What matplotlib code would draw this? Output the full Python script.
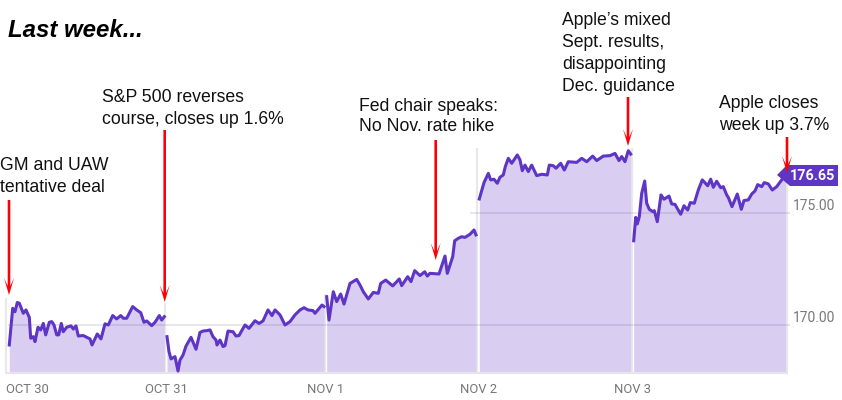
import matplotlib
matplotlib.use("Agg")
import matplotlib.pyplot as plt
from matplotlib.patches import Polygon

# Time-axis positions and closing prices for each of the five sessions
t_oct30 = [9.3,12.7,15,17.3,19.3,23.3,26,29.3,30.7,33.3,35,38,40.7,43.3,45.7,49.3,51.7,54,56.7,58.7,61.3,63.3,66.7,71,73.3,76,78.3,83.3,87.3,90,92,97.3,101,105,108.3,112.7,116.7,120.7,123.3,126.7,132.7,136.7,140.7,144,146.7,151.7,155,159.3,161.7,164.3]
p_oct30 = [169.11,170.74,170.59,171.0,170.97,170.52,170.67,170.34,169.41,169.48,169.26,169.90,169.78,170.07,169.56,170.12,170.15,170.0,169.56,169.56,170.07,169.70,169.90,169.96,169.82,169.96,169.51,169.53,169.44,169.38,169.11,169.60,169.38,170.05,170.0,170.42,170.27,170.42,170.30,170.30,170.82,170.67,170.55,170.12,170.18,169.97,170.12,170.42,170.22,170.37]
t_oct31 = [167,169,171,175,178,180,183,186,191,196,200,203,207,210,213,216,217,220,223,225,228,233,236,239,245,249,255,259,263,268,272,275,280,285,290,295,300,304,308,313,315,322,324]
p_oct31 = [169.48,168.81,168.49,168.59,167.95,168.44,168.66,169.06,169.45,168.92,169.67,169.73,169.75,169.78,169.48,169.33,169.11,169.33,169.04,169.08,169.73,169.70,169.51,169.53,170.0,169.85,170.19,170.07,170.18,170.67,170.42,170.67,170.45,170.0,170.15,170.45,170.67,170.77,170.67,170.64,170.52,170.89,170.82]
t_nov1 = [326.7,329,333.3,336.7,340.7,344,350,356.7,360,363.3,368.3,373.3,378.3,380.7,385.7,392.7,399.3,401.7,407.7,411,414.7,420,424.7,427.3,430,439,445,447.3,452.7,454.7,458.3,461.7,465,470,474,476]
p_nov1 = [171.26,170.22,171.48,171.04,171.38,170.93,171.85,172.03,171.78,171.48,171.16,171.45,171.41,171.85,172.0,171.74,172.05,171.75,172.15,171.93,172.42,172.20,172.37,172.18,172.30,172.27,173.07,172.30,173.04,173.75,173.86,173.93,173.90,174.04,174.23,174.01]
t_nov2 = [479.3,484,488.3,490.7,494,497.3,500,503.3,505.3,508.3,511.7,517.3,520,522.3,525,528.3,531.7,536.7,541.7,547.3,549.3,553.3,556,560.7,564.3,568.3,576.7,581.7,586.7,592.7,596.7,603.3,610,615,619,621.7,625,628.3,630.7]
p_nov2 = [175.61,176.34,176.75,176.46,176.49,176.31,176.58,176.68,177.05,177.42,177.20,177.57,177.35,176.87,177.12,176.83,177.12,176.65,176.71,176.68,177.12,177.09,176.98,177.20,176.90,177.27,177.24,177.42,177.27,177.52,177.32,177.52,177.54,177.64,177.32,177.50,177.27,177.76,177.61]
t_nov3 = [633.7,635.7,637.3,639.3,641.7,644.7,646.7,649.3,652.7,654.3,657.3,661,664,669,671.7,675,677.3,680.7,684,687.7,690.3,694.3,698.3,702.3,707.7,710.7,713.3,716.7,720.7,723.3,726.7,728.3,732,737.3,741.3,744,748.3,751.7,755,757.7,761.7,764.3,768.3,772.3,776.7,781.7,785.7]
p_nov3 = [173.75,174.79,174.50,174.82,175.86,176.41,175.42,175.15,175.05,175.09,174.60,175.79,175.60,175.74,175.39,175.37,175.19,174.93,175.31,175.12,175.45,175.42,176.01,176.46,176.20,176.49,176.13,176.40,176.11,176.16,175.79,175.68,175.27,175.83,175.15,175.54,175.57,175.83,175.97,176.25,176.16,176.34,176.28,176.01,176.16,176.46,176.63]

sessions = [(t_oct30, p_oct30), (t_oct31, p_oct31), (t_nov1, p_nov1), (t_nov2, p_nov2), (t_nov3, p_nov3)]
grid_levels = [170, 175]
grid_labels = ["170.00", "175.00"]
last_price = "176.65"
date_labels = ["OCT 30", "OCT 31", "NOV 1", "NOV 2", "NOV 3"]

LINE = "#5e35c4"
FILL = "#d9cdf2"
BASE = 167.9

fig = plt.figure(figsize=(8.42, 4), dpi=100)
ax = fig.add_axes([0, 0, 1, 1])
ax.set_xlim(0, 842)
ax.set_ylim(166.66, 184.47)
ax.axis("off")

# Session separators (pale rules reaching above the area)
for x, top in [(6, 171.2), (165, 171.0), (325, 171.4), (477, 177.9), (632, 177.9), (786.5, 176.6)]:
    ax.plot([x, x], [BASE, top], color="#e9e9ec", lw=1.6, zorder=1, solid_capstyle="butt")
for t, p in sessions:
    ax.fill_between(t, p, BASE, color=FILL, lw=0, zorder=2)
    ax.plot(t, p, color=LINE, lw=2.2, zorder=4, solid_joinstyle="round")

ax.plot([5, 788], [BASE - 0.03] * 2, color="#e6e6ea", lw=1.6, zorder=3, solid_capstyle="butt")
ax.hlines(grid_levels[0], 8, 790, color="#5b4a80", alpha=0.16, lw=1.2, zorder=3)
ax.hlines(grid_levels[1], 470, 790, color="#5b4a80", alpha=0.16, lw=1.2, zorder=3)

# Overlay in picture pixels for labels and call-outs
ov = fig.add_axes([0, 0, 1, 1])
ov.set_xlim(0, 842)
ov.set_ylim(400, 0)
ov.axis("off")
ov.patch.set_alpha(0)

for lab, x in zip(date_labels, [6, 145, 307, 460, 614]):
    ov.text(x, 389.5, lab, family="Roboto", fontsize=9.4, color="#777777", va="center", ha="left")
for lab, y in zip(grid_labels, [317, 205]):
    ov.text(793, y + 0.7, lab, family="Roboto", fontsize=10.0, color="#777777", va="center", ha="left")

ov.add_patch(Polygon([(777, 175), (787, 165), (838, 165), (838, 186), (790, 186)], closed=True, color=LINE, lw=0, zorder=5))
ov.text(789.5, 176, last_price, family="Roboto", weight="bold", fontsize=10.4, color="white", va="center", ha="left", zorder=6)

ov.text(8, 30.5, "Last week...", family="Liberation Sans", weight="bold", style="italic", fontsize=17.3, color="black", va="center")
notes = [
    (0, ["GM and UAW", "tentative deal"], [170, 192]),
    (102, ["S&P 500 reverses", "course, closes up 1.6%"], [102, 124]),
    (359, ["Fed chair speaks:", "No Nov. rate hike"], [111, 131]),
    (562, ["Apple\u2019s mixed", "Sept. results,", "disappointing", "Dec. guidance"], [25, 47, 69, 91]),
    (719, ["Apple closes", "week up 3.7%"], [108, 130]),
]
for x, lines, ys in notes:
    for line, y in zip(lines, ys):
        ov.text(x, y, line, family="Liberation Sans", fontsize=12.7, color="#111111", va="baseline", ha="left")

# Red call-out arrows: centre, tail and tip, with a swept, notched head
for x, y0, y1 in [(9, 200, 295), (164.7, 130, 302), (435.7, 140, 260), (628, 97, 146), (787, 137, 173)]:
    ov.add_patch(Polygon([(x, y1), (x - 5, y1 - 17), (x - 1.3, y1 - 9), (x - 1.3, y0), (x + 1.3, y0),
                          (x + 1.3, y1 - 9), (x + 5, y1 - 17)], closed=True, color="#fc0008", lw=0, zorder=7))

fig.savefig("out.png", dpi=100)
